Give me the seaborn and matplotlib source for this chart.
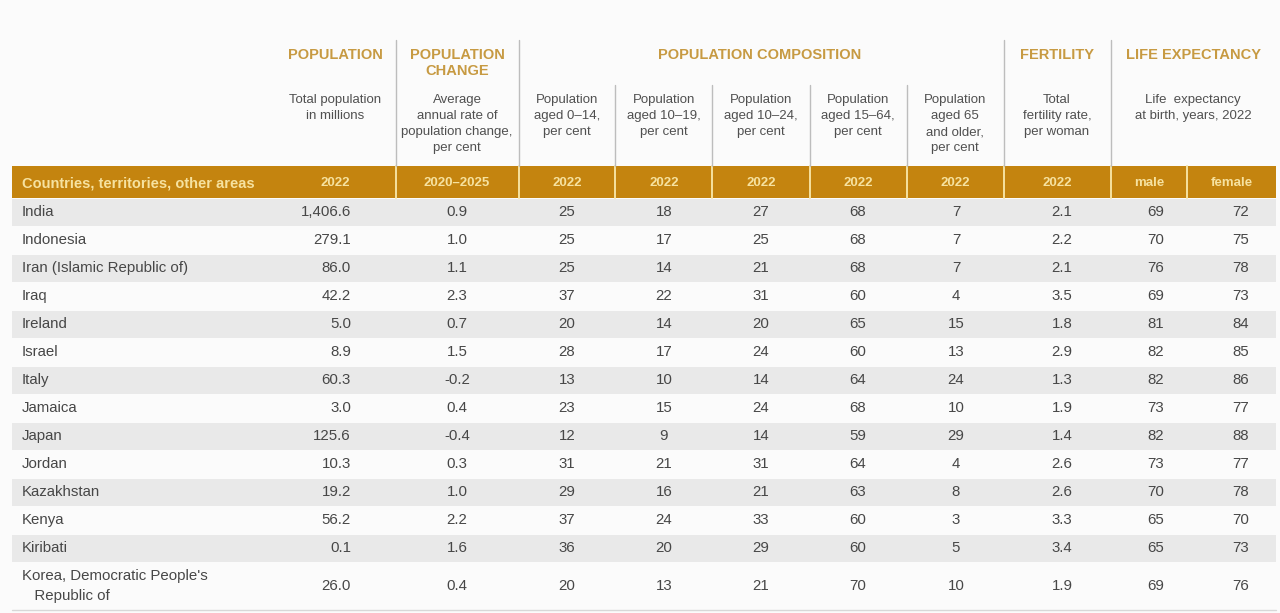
import matplotlib
matplotlib.use("Agg")
import matplotlib.pyplot as plt
from matplotlib import font_manager
from matplotlib.patches import Rectangle
import seaborn as sns

# ---------------- data ----------------
countries = ["India", "Indonesia", "Iran (Islamic Republic of)", "Iraq", "Ireland",
             "Israel", "Italy", "Jamaica", "Japan", "Jordan", "Kazakhstan", "Kenya",
             "Kiribati", "Korea, Democratic People's\n   Republic of"]
population = ["1,406.6", "279.1", "86.0", "42.2", "5.0", "8.9", "60.3", "3.0",
              "125.6", "10.3", "19.2", "56.2", "0.1", "26.0"]
pop_change = [0.9, 1.0, 1.1, 2.3, 0.7, 1.5, -0.2, 0.4, -0.4, 0.3, 1.0, 2.2, 1.6, 0.4]
aged_0_14 = [25, 25, 25, 37, 20, 28, 13, 23, 12, 31, 29, 37, 36, 20]
aged_10_19 = [18, 17, 14, 22, 14, 17, 10, 15, 9, 21, 16, 24, 20, 13]
aged_10_24 = [27, 25, 21, 31, 20, 24, 14, 24, 14, 31, 21, 33, 29, 21]
aged_15_64 = [68, 68, 68, 60, 65, 60, 64, 68, 59, 64, 63, 60, 60, 70]
aged_65 = [7, 7, 7, 4, 15, 13, 24, 10, 29, 4, 8, 3, 5, 10]
fertility = [2.1, 2.2, 2.1, 3.5, 1.8, 2.9, 1.3, 1.9, 1.4, 2.6, 2.6, 3.3, 3.4, 1.9]
life_male = [69, 70, 76, 69, 81, 82, 82, 73, 82, 73, 70, 65, 65, 69]
life_female = [72, 75, 78, 73, 84, 85, 86, 77, 88, 77, 78, 70, 73, 76]

group_titles = ["POPULATION", "POPULATION\nCHANGE", "POPULATION COMPOSITION",
                "FERTILITY", "LIFE EXPECTANCY"]
sub_titles = ["Total population\nin millions",
              "Average\nannual rate of\npopulation change,\nper cent",
              "Population\naged 0\u201314,\nper cent",
              "Population\naged 10\u201319,\nper cent",
              "Population\naged 10\u201324,\nper cent",
              "Population\naged 15\u201364,\nper cent",
              "Population\naged 65\nand older,\nper cent",
              "Total\nfertility rate,\nper woman",
              "Life  expectancy\nat birth, years, 2022"]
bar_labels = ["Countries, territories, other areas", "2022", "2020\u20132025", "2022",
              "2022", "2022", "2022", "2022", "2022", "male", "female"]

# ---------------- style ----------------
sns.set_theme(style="white")
names = {f.name for f in font_manager.fontManager.ttflist}
FONT = "Liberation Sans Narrow" if "Liberation Sans Narrow" in names else "Liberation Sans"
plt.rcParams["font.family"] = [FONT, "DejaVu Sans"]

ORANGE = "#C4840F"
TITLE = "#C79A42"
PALE = "#F6E2A0"
STRIPE = "#E9E9E9"
TXT = "#474747"
SUB = "#505050"
LINE = "#BDBDBD"

fig = plt.figure(figsize=(12.8, 6.13), dpi=100, facecolor="#FBFBFB")
ax = fig.add_axes([0, 0, 1, 1])
ax.set_xlim(0, 1280)
ax.set_ylim(613, 0)
ax.axis("off")

# layout (pixels)
left, right = 12, 1276
bar_top, bar_bot = 166, 198
seps = [396, 519, 615, 712, 810, 907, 1004, 1111, 1187]
major_seps = [396, 519, 1004, 1111]
row_h = 28
first_center = 212

# header bar
ax.add_patch(Rectangle((left, bar_top), right - left, bar_bot - bar_top,
                       facecolor=ORANGE, edgecolor="none", zorder=1))
for s in seps:
    ax.plot([s, s], [bar_top, bar_bot], color=PALE, lw=1.4, zorder=2)
# header separators above bar
for s in seps[:-1]:
    top = 40 if s in major_seps else 85
    ax.plot([s, s], [top, bar_top], color=LINE, lw=1.0, zorder=2)

# group titles
title_x = [335, 457, 760, 1057, 1194]
for x, t in zip(title_x, group_titles):
    ax.text(x, 48, t, ha="center", va="top", color=TITLE, fontsize=10.5,
            fontweight="bold", linespacing=1.2)

# sub titles
sub_x = [335, 457, 567, 664, 761, 858, 955, 1057, 1193]
for x, t in zip(sub_x, sub_titles):
    ax.text(x, 94, t, ha="center", va="top", color=SUB, fontsize=9.5,
            linespacing=1.45)

# bar labels
bar_x = [22, 335, 457, 567, 664, 761, 858, 955, 1057, 1149, 1232]
for i, (x, t) in enumerate(zip(bar_x, bar_labels)):
    ax.text(x, (bar_top + bar_bot) / 2 + 1, t, ha="left" if i == 0 else "center",
            va="center", color=PALE, fontsize=10.5 if i == 0 else 9.5,
            fontweight="bold")

# rows
n = len(countries)
centers = [first_center + i * row_h for i in range(n - 1)]
centers.append(centers[-1] + row_h / 2 + 24)
for i, c in enumerate(centers):
    if i % 2 == 0:
        ax.add_patch(Rectangle((left, c - 13.5), right - left, 27,
                               facecolor=STRIPE, edgecolor="none", zorder=0))

cols = [
    ([p for p in population], 351, "right"),
    ([f"{v:.1f}" for v in pop_change], 457, "center"),
    ([str(v) for v in aged_0_14], 567, "center"),
    ([str(v) for v in aged_10_19], 664, "center"),
    ([str(v) for v in aged_10_24], 761, "center"),
    ([str(v) for v in aged_15_64], 858, "center"),
    ([str(v) for v in aged_65], 956, "center"),
    ([f"{v:.1f}" for v in fertility], 1062, "center"),
    ([str(v) for v in life_male], 1156, "center"),
    ([str(v) for v in life_female], 1241, "center"),
]
for i, c in enumerate(centers):
    ax.text(22, c, countries[i], ha="left", va="center", color=TXT,
            fontsize=10.8, linespacing=1.6)
    for vals, x, ha in cols:
        ax.text(x, c, vals[i], ha=ha, va="center", color=TXT, fontsize=10.8)

ax.plot([left, right], [610, 610], color="#D8D8D8", lw=1.0)

fig.savefig("out.png", dpi=100, facecolor=fig.get_facecolor())
